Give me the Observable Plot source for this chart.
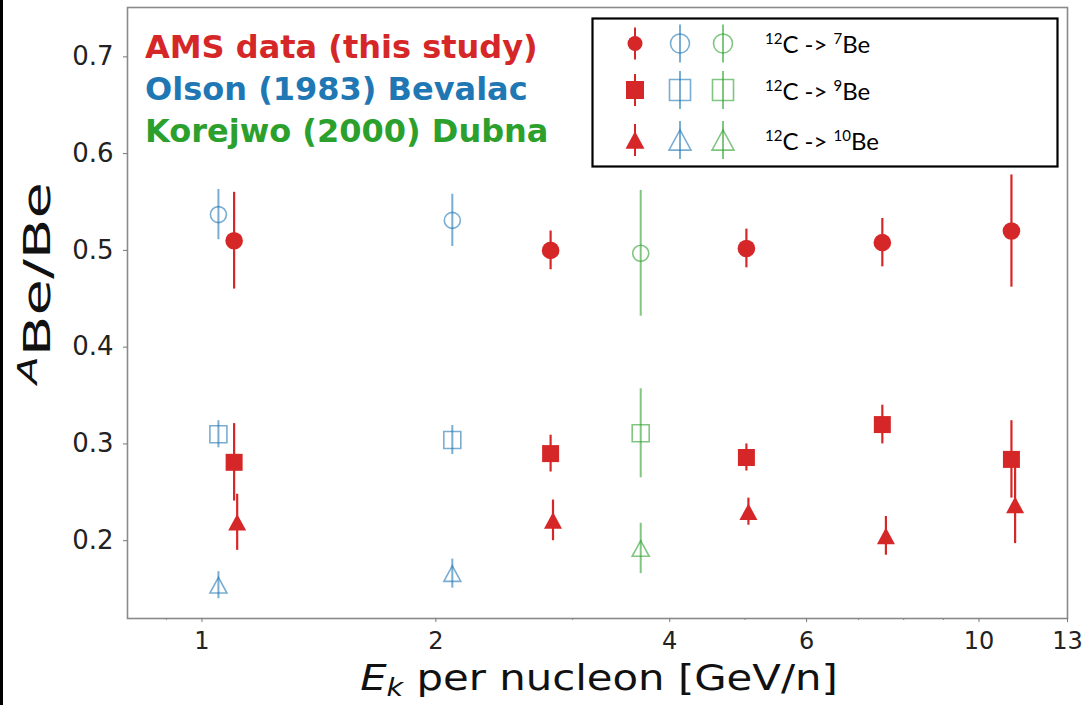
<!DOCTYPE html>
<html>
<head>
<meta charset="utf-8">
<script src="https://cdn.jsdelivr.net/npm/d3@7"></script>
<script src="https://cdn.jsdelivr.net/npm/@observablehq/plot@0.6"></script>
<style>
  html, body { margin: 0; padding: 0; background: #fff; }
  #wrap { position: relative; width: 1089px; height: 705px; overflow: hidden; background: #fff; }
  #wrap > svg { position: absolute; left: 0; top: 0; }
  #edge { position: absolute; left: 0; top: 0; width: 3px; height: 705px; background: #000; z-index: 5; }
</style>
</head>
<body>
<div id="wrap"><div id="edge"></div></div>
<script>
// Axis ticks
const xMajor = [1, 2, 4, 6, 10, 13];
const xMinor = [0.9, 3, 5, 7, 8, 9];
const yTicks = [0.2, 0.3, 0.4, 0.5, 0.6, 0.7];

// AMS (this study): kinetic energy per nucleon [GeV/n]
const amsE   = [1.10, 2.81, 5.02, 7.51, 11.01];
const amsE10 = [1.11, 2.83, 5.05, 7.59, 11.13];
const ams7     = [0.510, 0.500, 0.502, 0.508, 0.520];
const ams7Err  = [0.050, 0.020, 0.020, 0.025, 0.058];
const ams9     = [0.281, 0.290, 0.286, 0.320, 0.284];
const ams9Err  = [0.040, 0.019, 0.014, 0.020, 0.040];
const ams10    = [0.219, 0.221, 0.230, 0.205, 0.237];
const ams10Err = [0.029, 0.021, 0.014, 0.020, 0.040];

// Olson (1983) Bevalac
const olsonE      = [1.05, 2.10];
const olson7      = [0.537, 0.531];
const olson7Err   = [0.026, 0.027];
const olson9      = [0.310, 0.304];
const olson9Err   = [0.014, 0.015];
const olson10     = [0.154, 0.166];
const olson10Err  = [0.014, 0.015];

// Korejwo (2000) Dubna
const korE      = [3.67];
const kor7      = [0.497];
const kor7Err   = [0.065];
const kor9      = [0.311];
const kor9Err   = [0.046];
const kor10     = [0.192];
const kor10Err  = [0.026];

// Legend entries
const groupNames = ["AMS data (this study)", "Olson (1983) Bevalac", "Korejwo (2000) Dubna"];
const groupColors = ["#d62728", "#1f77b4", "#2ca02c"];
const reactions = [
  {pre: "12", mid: "C -> ", sup: "7", post: "Be"},
  {pre: "12", mid: "C -> ", sup: "9", post: "Be"},
  {pre: "12", mid: "C -> ", sup: "10", post: "Be"}
];

const RED = groupColors[0], BLUE = groupColors[1], GREEN = groupColors[2];
const W = 1089, H = 705;

// Marker shapes centred on their bounding box
const squareSym = {draw(ctx, size) { const r = Math.sqrt(size / Math.PI); ctx.rect(-r, -r, 2 * r, 2 * r); }};
const triSym = {draw(ctx, size) {
  const r = Math.sqrt(size / Math.PI), h = 0.92 * r;
  ctx.moveTo(0, -h); ctx.lineTo(r, h); ctx.lineTo(-r, h); ctx.closePath();
}};
const circleSym = {draw(ctx, size) { const r = Math.sqrt(size / Math.PI); ctx.moveTo(r, 0); ctx.arc(0, 0, r, 0, 2 * Math.PI); }};

const rows = (E, V, Err) => E.map((e, i) => ({e, v: V[i], lo: V[i] - Err[i], hi: V[i] + Err[i]}));

function series(E, V, Err, sym, r, color, filled) {
  const data = rows(E, V, Err);
  const op = filled ? 1 : 0.6;
  return [
    Plot.ruleX(data, {x: "e", y1: "lo", y2: "hi", stroke: color, strokeWidth: filled ? 2.2 : 2, strokeOpacity: op}),
    Plot.dot(data, filled
      ? {x: "e", y: "v", symbol: sym, r, fill: color, stroke: "none"}
      : {x: "e", y: "v", symbol: sym, r, fill: "none", stroke: color, strokeWidth: 1.6, strokeOpacity: op})
  ];
}

const chart = Plot.plot({
  width: W, height: H,
  marginLeft: 127, marginRight: 22, marginTop: 7, marginBottom: 87,
  style: {fontFamily: "DejaVu Sans", background: "transparent", color: "#222"},
  x: {type: "log", domain: [0.802, 13]},
  y: {domain: [0.1196, 0.751]},
  marks: [
    Plot.frame({stroke: "#8a8a8a", strokeWidth: 1.6}),
    Plot.axisX({ticks: xMajor, tickFormat: d => String(d), tickSize: 4, tickPadding: 9, fontSize: 24, stroke: "#777", fill: "#222", label: null}),
    Plot.axisX({ticks: xMinor, tickFormat: () => "", tickSize: 2, stroke: "#888", label: null}),
    Plot.axisY({ticks: yTicks, tickFormat: d3.format(".1f"), tickSize: 4, tickPadding: 10, fontSize: 26, stroke: "#777", fill: "#222", label: null}),
    ...series(olsonE, olson7, olson7Err, circleSym, 8, BLUE, false),
    ...series(olsonE, olson9, olson9Err, squareSym, 8.5, BLUE, false),
    ...series(olsonE, olson10, olson10Err, triSym, 8.5, BLUE, false),
    ...series(korE, kor7, kor7Err, circleSym, 8, GREEN, false),
    ...series(korE, kor9, kor9Err, squareSym, 8.5, GREEN, false),
    ...series(korE, kor10, kor10Err, triSym, 8.5, GREEN, false),
    ...series(amsE, ams7, ams7Err, circleSym, 8.8, RED, true),
    ...series(amsE, ams9, ams9Err, squareSym, 8.5, RED, true),
    ...series(amsE10, ams10, ams10Err, triSym, 9, RED, true)
  ]
});
document.getElementById("wrap").appendChild(chart);

// Overlay: axis titles, group labels and marker key
const ov = d3.select("#wrap").append("svg").attr("width", W).attr("height", H);

function stretchText(sel, targetLen) {
  const w = sel.node().getBBox().width;
  return w > 0 ? targetLen / w : 1;
}

// x-axis title
const xt = ov.append("text").attr("text-anchor", "middle")
  .attr("font-family", "DejaVu Sans").attr("font-size", 35).attr("fill", "#111");
xt.append("tspan").attr("font-style", "italic").text("E");
xt.append("tspan").attr("font-style", "italic").attr("font-size", 24).attr("dy", 6).text("k");
xt.append("tspan").attr("dy", -6).text(" per nucleon [GeV/n]");
const sx = stretchText(xt, 478);
xt.attr("transform", `translate(599,690) scale(${sx},1)`);

// y-axis title
const yt = ov.append("text").attr("text-anchor", "middle")
  .attr("font-family", "DejaVu Sans").attr("font-size", 38).attr("fill", "#111");
yt.append("tspan").attr("font-style", "italic").attr("font-size", 26).attr("dy", -13).text("A");
yt.append("tspan").attr("dy", 13).text("Be/Be");
const sy = stretchText(yt, 205);
yt.attr("transform", `translate(50,283) rotate(-90) scale(${sy},1)`);

// group labels
const gBase = [57.5, 100, 141.5];
groupNames.forEach((name, i) => {
  ov.append("text").attr("x", 145).attr("y", gBase[i])
    .attr("font-family", "DejaVu Sans").attr("font-weight", "bold").attr("font-size", 32)
    .attr("fill", groupColors[i]).text(name);
});

// marker key
const key = ov.append("g");
key.append("rect").attr("x", 592.5).attr("y", 18.5).attr("width", 465).attr("height", 148)
  .attr("fill", "#fff").attr("stroke", "#000").attr("stroke-width", 2.2);
const colX = [635, 680, 723];
const rowY = [43.5, 90, 140];
const syms = [circleSym, squareSym, triSym];
const redSize = [7.5, 9, 9.5];
const openSize = [9.5, 10.5, 11];
rowY.forEach((y, r) => {
  colX.forEach((x, c) => {
    const color = groupColors[c];
    const filled = c === 0;
    const half = filled ? 16 : 19;
    key.append("line").attr("x1", x).attr("x2", x).attr("y1", y - half).attr("y2", y + half)
      .attr("stroke", color).attr("stroke-width", 2).attr("stroke-opacity", filled ? 1 : 0.6);
    const rr = filled ? redSize[r] : openSize[r];
    key.append("path").attr("transform", `translate(${x},${y})`)
      .attr("d", d3.symbol(syms[r], Math.PI * rr * rr)())
      .attr("fill", filled ? color : "none")
      .attr("stroke", filled ? "none" : color)
      .attr("stroke-width", 1.6).attr("stroke-opacity", filled ? 1 : 0.6);
  });
  const t = key.append("text").attr("x", 765).attr("y", y + 9.5)
    .attr("font-family", "Lato").attr("font-size", 24).attr("fill", "#000");
  const re = reactions[r];
  t.append("tspan").attr("font-size", 15).attr("dy", -9).text(re.pre);
  t.append("tspan").attr("dy", 9).text(re.mid);
  t.append("tspan").attr("font-size", 15).attr("dy", -9).text(re.sup);
  t.append("tspan").attr("dy", 9).text(re.post);
});
</script>
</body>
</html>
